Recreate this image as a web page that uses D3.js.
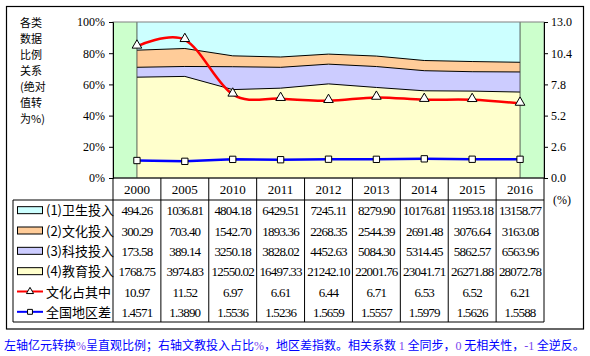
<!DOCTYPE html>
<html><head><meta charset="utf-8">
<script src="https://cdn.jsdelivr.net/npm/d3@7"></script>
<style>
body{margin:0;background:#fff;}
svg{display:block;}
text{font-family:"Liberation Serif","Noto Sans CJK SC",serif;}
.cn{font-family:"Noto Sans CJK SC","Liberation Serif",sans-serif;}
</style></head>
<body><svg id="c" width="590" height="356"></svg>
<script>
const years = ["2000","2005","2010","2011","2012","2013","2014","2015","2016"];
const health = [494.26,1036.81,4804.18,6429.51,7245.11,8279.90,10176.81,11953.18,13158.77];
const culture = [300.29,703.40,1542.70,1893.36,2268.35,2544.39,2691.48,3076.64,3163.08];
const science = [173.58,389.14,3250.18,3828.02,4452.63,5084.30,5314.45,5862.57,6563.96];
const education = [1768.75,3974.83,12550.02,16497.33,21242.10,22001.76,23041.71,26271.88,28072.78];
const cultureShare = [10.97,11.52,6.97,6.61,6.44,6.71,6.53,6.52,6.21];
const regionGap = [1.4571,1.3890,1.5536,1.5236,1.5659,1.5557,1.5979,1.5626,1.5588];
const leftTicks = [0,0.2,0.4,0.6,0.8,1.0];
const rightTicks = [0,2.6,5.2,7.8,10.4,13.0];
const seriesNames = ["(1)卫生投入","(2)文化投入","(3)科技投入","(4)教育投入","文化占其中","全国地区差"];
const axisTitle = ["各类","数据","比例","关系","(绝对","值转","为%)"];
const caption = [["左轴亿元转换","b"],["%","p"],["呈直观比例；右轴文教投入占比","b"],["%","p"],["，地区差指数。相关系数 ","b"],["1","p"],[" 全同步，","b"],["0","p"],[" 无相关性，","b"],["-1","p"],[" 全逆反。","b"]];

const svg = d3.select("#c");
const X0=113, X1=544, Y0=22, Y1=178;
const x = d3.scaleBand().domain(years).range([X0,X1]).padding(0);
const bw = x.bandwidth();
const cx = d => x(d)+bw/2;
const yL = d3.scaleLinear().domain([0,1]).range([Y1,Y0]);
const yR = d3.scaleLinear().domain([0,13]).range([Y1,Y0]);

// outer frame
svg.append("rect").attr("x",6.5).attr("y",6.5).attr("width",577).attr("height",322.5)
  .attr("fill","none").attr("stroke","#000").attr("stroke-width",1.2);

// plot background
svg.append("rect").attr("x",X0).attr("y",Y0).attr("width",X1-X0).attr("height",Y1-Y0).attr("fill","#CCFFCC");

// stacked percent areas
const rows = years.map((y,i)=>({year:y, edu:education[i], sci:science[i], cul:culture[i], hea:health[i]}));
const keys = ["edu","sci","cul","hea"];
const colors = {edu:"#FFFFCC", sci:"#CCCCFF", cul:"#FFCC99", hea:"#CCFFFF"};
const stacked = d3.stack().keys(keys).offset(d3.stackOffsetExpand)(rows);
const area = d3.area().x(d=>cx(d.data.year)).y0(d=>yL(d[0])).y1(d=>yL(d[1]));
const topLine = d3.line().x(d=>cx(d.data.year)).y(d=>yL(d[1]));
svg.append("g").selectAll("path").data(stacked).join("path")
  .attr("d",area).attr("fill",d=>colors[d.key]);
svg.append("g").selectAll("path").data(stacked.filter(s=>s.key!=="hea")).join("path")
  .attr("d",topLine).attr("fill","none").attr("stroke","#000").attr("stroke-width",1);
svg.append("line").attr("x1",cx(years[0])).attr("x2",cx(years[0])).attr("y1",Y0).attr("y2",Y1).attr("stroke","#333").attr("stroke-width",0.8);
svg.append("line").attr("x1",cx(years[8])).attr("x2",cx(years[8])).attr("y1",Y0).attr("y2",Y1).attr("stroke","#333").attr("stroke-width",0.8);

// plot border
svg.append("rect").attr("x",X0).attr("y",Y0).attr("width",X1-X0).attr("height",Y1-Y0)
  .attr("fill","none").attr("stroke","#808080").attr("stroke-width",1);

// axes
const gL = svg.append("g").attr("transform",`translate(${X0},0)`)
  .call(d3.axisLeft(yL).tickValues(leftTicks).tickFormat(d3.format(".0%")).tickSize(4).tickPadding(4));
const gR = svg.append("g").attr("transform",`translate(${X1},0)`)
  .call(d3.axisRight(yR).tickValues(rightTicks).tickFormat(d3.format(".1f")).tickSize(4).tickPadding(3));
[gL,gR].forEach(g=>{
  g.select(".domain").attr("stroke","#000");
  g.selectAll(".tick line").attr("stroke","#000");
  g.selectAll("text").attr("font-family","Liberation Serif").attr("font-size",12).attr("fill","#000");
});
svg.append("text").attr("x",562).attr("y",204).attr("text-anchor","middle").attr("font-size",12).text("(%)");

// lines
const redLine = d3.line().x((d,i)=>cx(years[i])).y(d=>yR(d)).curve(d3.curveCardinal.tension(0));
svg.append("path").datum(cultureShare).attr("d",redLine).attr("fill","none").attr("stroke","#FF0000").attr("stroke-width",2.5);
const blueLine = d3.line().x((d,i)=>cx(years[i])).y(d=>yR(d));
svg.append("path").datum(regionGap).attr("d",blueLine).attr("fill","none").attr("stroke","#0000FF").attr("stroke-width",2.5);
const tri = d3.symbol().type(d3.symbolTriangle).size(40);
const sq = d3.symbol().type(d3.symbolSquare).size(40);
svg.append("g").selectAll("path").data(cultureShare).join("path")
  .attr("d",tri).attr("transform",(d,i)=>`translate(${cx(years[i])},${yR(d)-1})`)
  .attr("fill","#fff").attr("stroke","#000").attr("stroke-width",1);
svg.append("g").selectAll("path").data(regionGap).join("path")
  .attr("d",sq).attr("transform",(d,i)=>`translate(${cx(years[i])},${yR(d)})`)
  .attr("fill","#fff").attr("stroke","#000").attr("stroke-width",1);

// axis title (one text element, wrapped lines)
const at = svg.append("text").attr("class","cn").attr("x",20).attr("y",27).attr("font-size",11);
at.selectAll("tspan").data(axisTitle).join("tspan")
  .attr("x",20).attr("dy",(d,i)=>i===0?0:16).text(d=>d);

// table
const TY0=Y1, TY1=200, TY2=322, TL=13;
const t = svg.append("g");
t.selectAll("text.yr").data(years).join("text").attr("class","yr")
  .attr("x",d=>cx(d)).attr("y",194).attr("text-anchor","middle").attr("font-size",13).text(d=>d);
const rowY = d3.scaleBand().domain(d3.range(6)).range([TY1,TY2]);
const tableVals = [health,culture,science,education,cultureShare,regionGap];
const fmts = [d3.format(".2f"),d3.format(".2f"),d3.format(".2f"),d3.format(".2f"),d3.format(".2f"),d3.format(".4f")];
tableVals.forEach((vals,r)=>{
  t.append("g").selectAll("text").data(vals).join("text")
    .attr("x",(d,i)=>cx(years[i])).attr("y",rowY(r)+rowY.bandwidth()/2+5)
    .attr("text-anchor","middle").attr("font-size",13).attr("letter-spacing",-0.8)
    .text(d=>fmts[r](d));
});
// legend keys
const fills = ["#CCFFFF","#FFCC99","#CCCCFF","#FFFFCC"];
seriesNames.forEach((n,r)=>{
  const cy = rowY(r)+rowY.bandwidth()/2;
  if(r<4){
    t.append("rect").attr("x",17.5).attr("y",cy-3.5).attr("width",25).attr("height",7)
      .attr("fill",fills[r]).attr("stroke","#000").attr("stroke-width",1);
  } else {
    const col = r===4?"#FF0000":"#0000FF";
    t.append("line").attr("x1",17).attr("x2",43).attr("y1",cy).attr("y2",cy).attr("stroke",col).attr("stroke-width",2);
    t.append("path").attr("d",(r===4?d3.symbol().type(d3.symbolTriangle).size(22):d3.symbol().type(d3.symbolSquare).size(24))())
      .attr("transform",`translate(30,${cy})`).attr("fill","#fff").attr("stroke","#000").attr("stroke-width",1);
  }
  t.append("text").attr("class","cn").attr("x",46).attr("y",cy+5).attr("font-size",13).text(n);
});
// grid lines
t.selectAll("line.v").data(d3.range(10)).join("line").attr("class","v")
  .attr("x1",i=>X0+i*bw).attr("x2",i=>X0+i*bw).attr("y1",TY0).attr("y2",TY2)
  .attr("stroke","#000").attr("stroke-width",1);
t.append("line").attr("x1",TL).attr("x2",X1).attr("y1",TY1).attr("y2",TY1).attr("stroke","#000");
t.append("line").attr("x1",TL).attr("x2",X1).attr("y1",TY2).attr("y2",TY2).attr("stroke","#000");
t.append("line").attr("x1",TL).attr("x2",TL).attr("y1",TY1).attr("y2",TY2).attr("stroke","#000");
t.append("line").attr("x1",X0).attr("x2",X1).attr("y1",TY0).attr("y2",TY0).attr("stroke","#000");

// caption
const cap = svg.append("text").attr("class","cn").attr("x",4).attr("y",350).attr("font-size",12);
cap.selectAll("tspan").data(caption).join("tspan")
  .attr("fill",d=>d[1]==="b"?"#0000FF":"#7744EE")
  .style("font-family",d=>d[1]==="p"?"Liberation Serif":null)
  .text(d=>d[0]);
</script></body></html>
